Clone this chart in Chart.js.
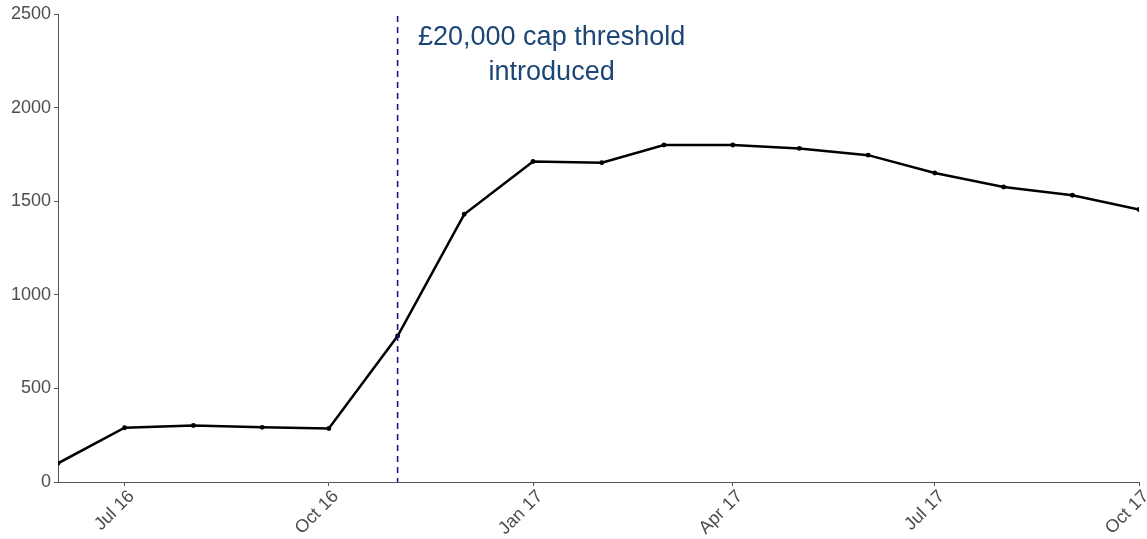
<!DOCTYPE html>
<html>
<head>
<meta charset="utf-8">
<script src="https://cdn.jsdelivr.net/npm/chart.js@4"></script>
<style>
  html, body { margin: 0; padding: 0; background: #fff; }
  #wrap { width: 1147px; height: 539px; }
</style>
</head>
<body>
<div id="wrap"><canvas id="chart"></canvas></div>
<script>
const months = ['2016-06-01', '2016-07-01', '2016-08-01', '2016-09-01', '2016-10-01', '2016-11-01',
    '2016-12-01', '2017-01-01', '2017-02-01', '2017-03-01', '2017-04-01', '2017-05-01',
    '2017-06-01', '2017-07-01', '2017-08-01', '2017-09-01', '2017-10-01'];
const counts = [100, 290, 302, 292, 286, 780, 1430, 1712, 1706, 1800, 1800, 1782, 1746, 1651, 1576, 1532, 1456];
const tickDates = ['2016-07-01', '2016-10-01', '2017-01-01', '2017-04-01', '2017-07-01', '2017-10-01'];
const tickLabels = ['Jul 16', 'Oct 16', 'Jan 17', 'Apr 17', 'Jul 17', 'Oct 17'];
const capDate = '2016-11-01';
const capText = ['£20,000 cap threshold', 'introduced'];

// days since epoch so the axis spaces months by real length
const day = s => Date.parse(s + 'T00:00:00Z') / 86400000;

const capLine = {
    id: 'capLine',
    afterDatasetsDraw(chart) {
        const { ctx, chartArea, scales } = chart;
        const x = scales.x.getPixelForValue(day(capDate));
        ctx.save();
        ctx.strokeStyle = '#18188a';
        ctx.lineWidth = 1.6;
        ctx.setLineDash([6, 5]);
        ctx.beginPath();
        ctx.moveTo(x, chartArea.top + 2);
        ctx.lineTo(x, chartArea.bottom);
        ctx.stroke();
        ctx.setLineDash([]);
        ctx.fillStyle = '#1b4676';
        ctx.font = '27px "Liberation Sans", Arial, sans-serif';
        ctx.textAlign = 'center';
        ctx.textBaseline = 'middle';
        ctx.fillText(capText[0], x + 154, chartArea.top + 24);
        ctx.fillText(capText[1], x + 154, chartArea.top + 59);
        ctx.restore();
    }
};

const axisColor = '#555555';
const tickFont = { family: '"Liberation Sans", Arial, sans-serif', size: 18 };

new Chart(document.getElementById('chart'), {
    type: 'line',
    data: {
        datasets: [{
            data: months.map((m, i) => ({ x: day(m), y: counts[i] })),
            borderColor: '#000',
            backgroundColor: '#000',
            borderWidth: 2.5,
            pointRadius: 1.2,
            pointHoverRadius: 1.2,
            tension: 0
        }]
    },
    options: {
        responsive: true,
        maintainAspectRatio: false,
        animation: false,
        layout: { padding: { top: 14, right: 8, left: 0, bottom: 0 } },
        plugins: { legend: { display: false }, tooltip: { enabled: false } },
        scales: {
            x: {
                type: 'linear',
                min: day(months[0]),
                max: day(months[months.length - 1]),
                afterBuildTicks: scale => { scale.ticks = tickDates.map(d => ({ value: day(d) })); },
                afterFit: scale => {
                    scale.height = 57;
                    scale.paddingLeft = 0;
                    scale.paddingRight = 0;
                },
                border: { display: true, color: axisColor, width: 1 },
                grid: { display: true, drawOnChartArea: false, drawTicks: true, tickLength: 4, color: axisColor },
                ticks: {
                    color: '#4d4d4d',
                    font: tickFont,
                    minRotation: 45,
                    maxRotation: 45,
                    padding: 0,
                    labelOffset: 7,
                    callback: (v, i) => tickLabels[i]
                }
            },
            y: {
                min: 0,
                max: 2500,
                afterFit: scale => { scale.width = 58; },
                border: { display: true, color: axisColor, width: 1 },
                grid: { display: true, drawOnChartArea: false, drawTicks: true, tickLength: 4, color: axisColor },
                ticks: { stepSize: 500, color: '#4d4d4d', font: tickFont, padding: 3, callback: v => String(v) }
            }
        }
    },
    plugins: [capLine]
});
</script>
</body>
</html>
